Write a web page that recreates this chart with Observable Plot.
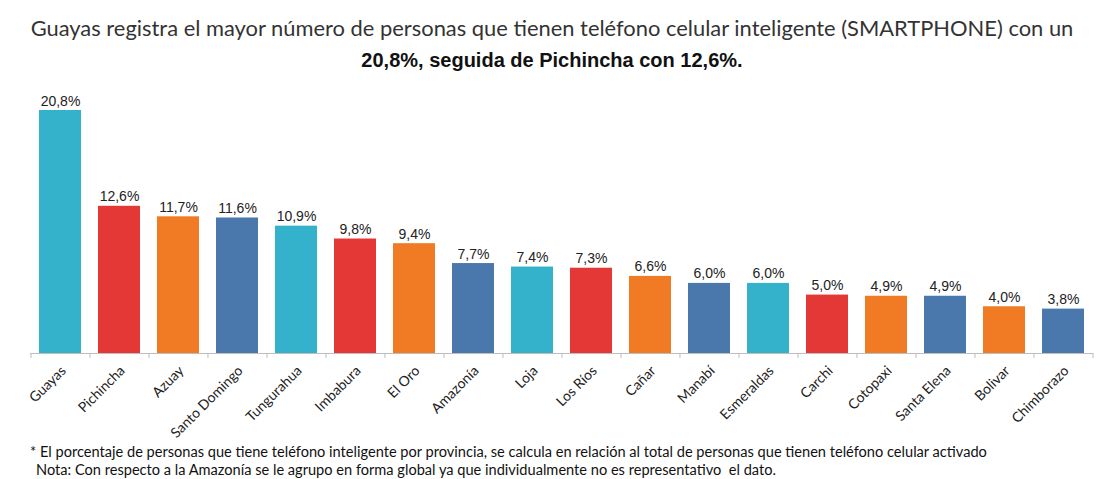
<!DOCTYPE html>
<html>
<head>
<meta charset="utf-8">
<script src="https://cdn.jsdelivr.net/npm/d3@7"></script>
<script src="https://cdn.jsdelivr.net/npm/@observablehq/plot@0.6"></script>
<style>
  html, body { margin: 0; padding: 0; background: #fff; }
  #wrap { position: relative; width: 1104px; height: 479px; overflow: hidden; }
  .t1 { position: absolute; left: 0; width: 1104px; top: 14px; text-align: center;
        font-family: Lato, "Open Sans", sans-serif; font-size: 21.9px; line-height: 28px; color: #333; white-space: nowrap; }
  .t2 { position: absolute; left: 0; width: 1104px; top: 47px; text-align: center;
        font-family: "Liberation Sans", Arial, sans-serif; font-weight: bold; font-size: 20px; line-height: 26px; color: #111; }
  #chart { position: absolute; left: 0; top: 78px; }
  .fn { position: absolute; font-family: Lato, "Open Sans", sans-serif; font-size: 14.6px; line-height: 18px; color: #111; white-space: nowrap; }
</style>
</head>
<body>
<div id="wrap">
  <div class="t1">Guayas registra el mayor número de personas que tienen teléfono celular inteligente (SMARTPHONE) con un</div>
  <div class="t2">20,8%, seguida de Pichincha con 12,6%.</div>
  <div id="chart"></div>
  <div class="fn" style="left:30px; top:443px;">* El porcentaje de personas que tiene teléfono inteligente por provincia, se calcula en relación al total de personas que tienen teléfono celular activado</div>
  <div class="fn" style="left:36px; top:461px;">Nota: Con respecto a la Amazonía se le agrupo en forma global ya que individualmente no es representativo&nbsp; el dato.</div>
</div>
<script>
const provincias = ["Guayas","Pichincha","Azuay","Santo Domingo","Tungurahua","Imbabura","El Oro","Amazonía","Loja","Los Ríos","Cañar","Manabí","Esmeraldas","Carchi","Cotopaxi","Santa Elena","Bolivar","Chimborazo"];
const valores = [20.8,12.6,11.7,11.6,10.9,9.8,9.4,7.7,7.4,7.3,6.6,6.0,6.0,5.0,4.9,4.9,4.0,3.8];
const colores = ["#35b2cb","#e43837","#f17a24","#4a78ad","#35b2cb","#e43837","#f17a24","#4a78ad","#35b2cb","#e43837","#f17a24","#4a78ad","#35b2cb","#e43837","#f17a24","#4a78ad","#f17a24","#4a78ad"];

const data = provincias.map((p, i) => ({provincia: p, valor: valores[i], color: colores[i]}));
const fmt = v => v.toFixed(1).replace(".", ",") + "%";

const W = 1104, H = 365, mL = 30, mR = 11;
const step = (W - mL - mR) / provincias.length;

const chart = Plot.plot({
  width: W,
  height: H,
  marginTop: 32,
  marginBottom: 90,
  marginLeft: mL,
  marginRight: mR,
  x: {domain: provincias, paddingInner: 0.284, paddingOuter: 0.142, label: null},
  y: {domain: [0, 20.8], axis: null},
  marks: [
    Plot.barY(data, {x: "provincia", y: "valor", fill: d => d.color}),
    Plot.text(data, {x: "provincia", y: "valor", text: d => fmt(d.valor), dy: -5, lineAnchor: "bottom",
      fontFamily: "'Liberation Sans', Arial, sans-serif", fontSize: 14, fill: "#222"}),
    Plot.ruleY([0], {stroke: "#bdbdbd", strokeWidth: 1.2}),
    Plot.axisX({tickSize: 5, dx: -step / 2, text: null, stroke: "#bdbdbd"}),
    Plot.axisX([provincias[provincias.length - 1]], {tickSize: 5, dx: step / 2, text: null, stroke: "#bdbdbd"}),
    Plot.axisX({tickSize: 0, tickPadding: 15, tickRotate: -45, dx: 3, fontSize: 14,
      fontFamily: "Lato, 'Open Sans', sans-serif", fill: "#222", label: null})
  ]
});
document.getElementById("chart").appendChild(chart);
</script>
</body>
</html>
